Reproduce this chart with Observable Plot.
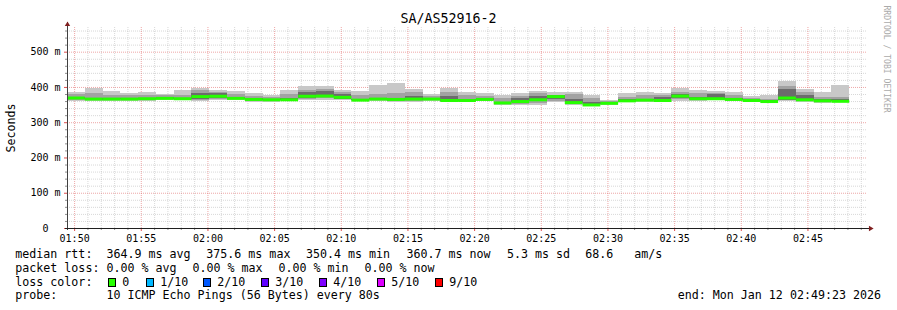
<!DOCTYPE html>
<html>
<head>
<meta charset="utf-8">
<script src="https://cdn.jsdelivr.net/npm/d3@7"></script>
<script src="https://cdn.jsdelivr.net/npm/@observablehq/plot@0.6"></script>
<style>
  html, body { margin: 0; padding: 0; background: #fff; }
  #wrap { position: relative; width: 897px; height: 310px; overflow: hidden; background: #fff;
          font-family: "DejaVu Sans Mono", monospace; color: #000; }
  #chart { position: absolute; left: 0; top: 0; }
  #title { position: absolute; left: 0; top: 11.4px; width: 897px; text-align: center;
           font-size: 13.3px; line-height: 16px; white-space: pre; }
  .lg { position: absolute; font-size: 11.65px; line-height: 14px; white-space: pre; }
  .box { position: absolute; width: 8px; height: 9px; box-sizing: border-box; border: 1px solid #000; }
</style>
</head>
<body>
<div id="wrap">
  <div id="chart"></div>
  <div id="title"></div>
  <div id="legend"></div>
</div>
<script>
// ---------------- data ----------------
const title = "SA/AS52916-2";
const day = "2026-01-12";
const firstStep = "01:49:28";     // start of first 80 s step (= left edge of graph)
const graphEnd = "02:49:28";
const stepSeconds = 80;

// per-step ping distribution (ms)
const medians = [370, 367, 367, 367, 368, 369, 368, 374, 375, 369,
                 366, 365, 365, 375, 375.6, 372, 364, 367, 366, 367,
                 367, 363, 363, 366, 356, 360, 365, 374, 357, 350.4,
                 355, 362, 364, 363, 375.5, 368, 368, 366, 363, 360,
                 370, 365, 362, 360.7];
const maxes   = [385, 396, 388, 382, 385, 380, 391, 397, 392, 388,
                 382, 376, 391, 402, 402, 391, 388, 405, 411, 394,
                 380, 397, 385, 382, 377, 382, 388, 385, 385, 377,
                 362, 382, 385, 382, 397, 391, 388, 385, 374, 377,
                 416, 394, 385, 405];
const mins    = [361, 360, 359, 361, 361, 362, 362, 360, 362, 362,
                 358, 357, 360, 362, 363, 362, 360, 360, 358, 358,
                 361, 358, 357, 360, 350, 350, 350, 358, 350, 345,
                 350, 356, 358, 357, 360, 361, 362, 360, 358, 356,
                 360, 358, 355, 358];
const midHi   = [379, 382, 378, 376, 377, 376, 378, 390, 387, 380,
                 375, 371, 380, 392, 395, 386, 376, 380, 382, 385,
                 374, 385, 376, 375, 370, 375, 382, 378, 380, 370,
                 360, 372, 377, 376, 385, 382, 384, 378, 370, 365,
                 402, 385, 372, 372];
const midLo   = [364, 363, 362, 363, 364, 365, 365, 364, 366, 365,
                 361, 360, 362, 366, 368, 365, 362, 363, 361, 360,
                 363, 360, 359, 362, 352, 353, 355, 360, 352, 348,
                 352, 358, 360, 359, 366, 364, 364, 362, 360, 358,
                 362, 360, 358, 360];
const darkHi  = [372, 370, 369, 369, 370, 371, 370, 384, 382, 372,
                 368, 367, 368, 385, 388, 380, 367, 370, 369, 375,
                 369, 375, 366, 368, 358, 368, 375, 376, 365, 356,
                 357, 365, 367, 372, 380, 372, 380, 370, 365, 362,
                 395, 378, 365, 365];
const darkLo  = [366, 364, 364, 365, 366, 367, 366, 366, 368, 366,
                 363, 362, 363, 368, 372, 367, 363, 365, 363, 362,
                 365, 361, 361, 364, 353, 356, 360, 365, 354, 350,
                 353, 360, 362, 360, 370, 366, 366, 364, 361, 359,
                 364, 362, 360, 361];

const yTicks = [0, 100, 200, 300, 400, 500];
const xTickLabels = ["01:50", "01:55", "02:00", "02:05", "02:10", "02:15",
                     "02:20", "02:25", "02:30", "02:35", "02:40", "02:45"];

const lossLabels = ["0", "1/10", "2/10", "3/10", "4/10", "5/10", "9/10"];
const lossColors = ["#26ff00", "#00b8ff", "#0059ff", "#5e00ff", "#7e00ff", "#dd00ff", "#ff0000"];

const statsLine1 = ["median rtt:", "364.9 ms avg", "375.6 ms max", "350.4 ms min", "360.7 ms now", "5.3 ms sd", "68.6", "am/s"];
const statsLine2 = ["packet loss:", "0.00 % avg", "0.00 % max", "0.00 % min", "0.00 % now"];
const lossTitle = "loss color:";
const probeLine = ["probe:", "10 ICMP Echo Pings (56 Bytes) every 80s"];
const endLabel = "end: Mon Jan 12 02:49:23 2026";
const yLabel = "Seconds";
const watermark = "RRDTOOL / TOBI OETIKER";

// ---------------- build ----------------
const toDate = hm => new Date(`${day}T${hm.length === 5 ? hm + ":00" : hm}Z`);
const t0 = toDate(firstStep), tEnd = toDate(graphEnd);
const stepMs = stepSeconds * 1000;
const rows = medians.map((m, i) => ({
  t0: new Date(+t0 + i * stepMs), t1: new Date(+t0 + (i + 1) * stepMs),
  med: m, max: maxes[i], min: mins[i],
  midHi: midHi[i], midLo: midLo[i], darkHi: darkHi[i], darkLo: darkLo[i]
}));

const majorX = xTickLabels.map(toDate);
const labelOf = new Map(majorX.map((d, i) => [+d, xTickLabels[i]]));
const minorX = d3.utcMinute.range(t0, tEnd).filter(d => d.getUTCMinutes() % 5 !== 0);
const yTop = 570;
const minorY = d3.range(20, yTop, 20).filter(v => v % 100 !== 0);

const gridGray = "#8f8f8f", gridRed = "#de4f4f";
const crisp = {shapeRendering: "crispEdges"};

const chart = Plot.plot({
  width: 897, height: 248,
  marginLeft: 67, marginRight: 30, marginTop: 27, marginBottom: 20,
  x: {type: "utc", domain: [t0, tEnd]},
  y: {domain: [0, yTop]},
  style: {fontFamily: "'DejaVu Sans Mono', monospace", fontSize: "10px", background: "transparent", color: "#000", overflow: "visible"},
  marks: [
    Plot.gridX(minorX, {stroke: gridGray, strokeOpacity: 0.35, strokeDasharray: "1,1"}),
    Plot.gridY(minorY, {stroke: gridGray, strokeOpacity: 0.35, strokeDasharray: "1,1"}),
    Plot.gridX(majorX, {stroke: gridRed, strokeOpacity: 0.5, strokeDasharray: "1,1"}),
    Plot.gridY(yTicks.filter(v => v > 0), {stroke: gridRed, strokeOpacity: 0.5, strokeDasharray: "1,1"}),
    Plot.rect(rows, {x1: "t0", x2: "t1", y1: "min", y2: "max", fill: "#c8c8c8", ...crisp}),
    Plot.rect(rows, {x1: "t0", x2: "t1", y1: "midLo", y2: "midHi", fill: "#a2a2a2", ...crisp}),
    Plot.rect(rows, {x1: "t0", x2: "t1", y1: "darkLo", y2: "darkHi", fill: "#6c6c6c", ...crisp}),
    Plot.ruleY(rows, {x1: "t0", x2: "t1", y: "med", stroke: lossColors[0], strokeWidth: 3}),
    Plot.axisY(minorY, {tickSize: 2, tickFormat: () => "", stroke: gridGray}),
    Plot.axisY(yTicks, {tickSize: 3, tickPadding: 4, stroke: gridRed, fill: "#000",
      tickFormat: v => v === 0 ? "0\u00a0\u00a0" : `${v} m`}),
    Plot.axisX(minorX, {tickSize: 2, tickFormat: () => "", stroke: gridGray}),
    Plot.axisX(majorX, {tickSize: 3, tickPadding: 3, stroke: gridRed, fill: "#000",
      tickFormat: d => labelOf.get(+d)}),
    Plot.ruleX([t0], {stroke: "#404040", insetTop: -5, insetBottom: -2}),
    Plot.ruleY([0], {stroke: "#1f1f1f", insetLeft: -2, insetRight: -3}),
    Plot.dot([{x: t0, y: yTop}], {x: "x", y: "y", symbol: "triangle", r: 2, fill: "#801f1f", stroke: "none", dy: -3}),
    Plot.dot([{x: tEnd, y: 0}], {x: "x", y: "y", symbol: "triangle", r: 2, fill: "#801f1f", stroke: "none", rotate: 90, dx: 3}),
    Plot.text([yLabel], {frameAnchor: "left", dx: -56, rotate: -90, textAnchor: "middle", fontSize: 11.65, fill: "#000"}),
    Plot.text([watermark], {frameAnchor: "top-right", dx: 19, dy: -22, rotate: 90, textAnchor: "start",
      lineAnchor: "middle", fontSize: 8.1, fill: "#aaaaaa"})
  ]
});
document.getElementById("chart").append(chart);
document.getElementById("title").textContent = title;

// ---------------- legend (HTML below the plot) ----------------
const legend = document.getElementById("legend");
function put(text, left, baseline) {
  const s = document.createElement("div");
  s.className = "lg";
  s.textContent = text;
  s.style.left = left + "px";
  s.style.top = (baseline - 11) + "px";
  legend.append(s);
  return s;
}
const line1X = [15.3, 106.5, 206.3, 306, 406.5, 507, 585.2, 634.3];
statsLine1.forEach((t, i) => put(t, line1X[i], 258.3));
const line2X = [15.3, 106.5, 192.5, 278.5, 364.5];
statsLine2.forEach((t, i) => put(t, line2X[i], 271.7));
put(lossTitle, 15.3, 286);
const boxX = [108, 146, 203, 261, 319, 377, 435];
lossLabels.forEach((t, i) => {
  const b = document.createElement("div");
  b.className = "box";
  b.style.left = boxX[i] + "px";
  b.style.top = "278px";
  b.style.background = lossColors[i];
  legend.append(b);
  put(t, boxX[i] + 14.3, 286);
});
put(probeLine[0], 15.3, 299);
put(probeLine[1], 106.5, 299);
const e = put(endLabel, 0, 299);
e.style.left = "auto";
e.style.right = "16px";
</script>
</body>
</html>
